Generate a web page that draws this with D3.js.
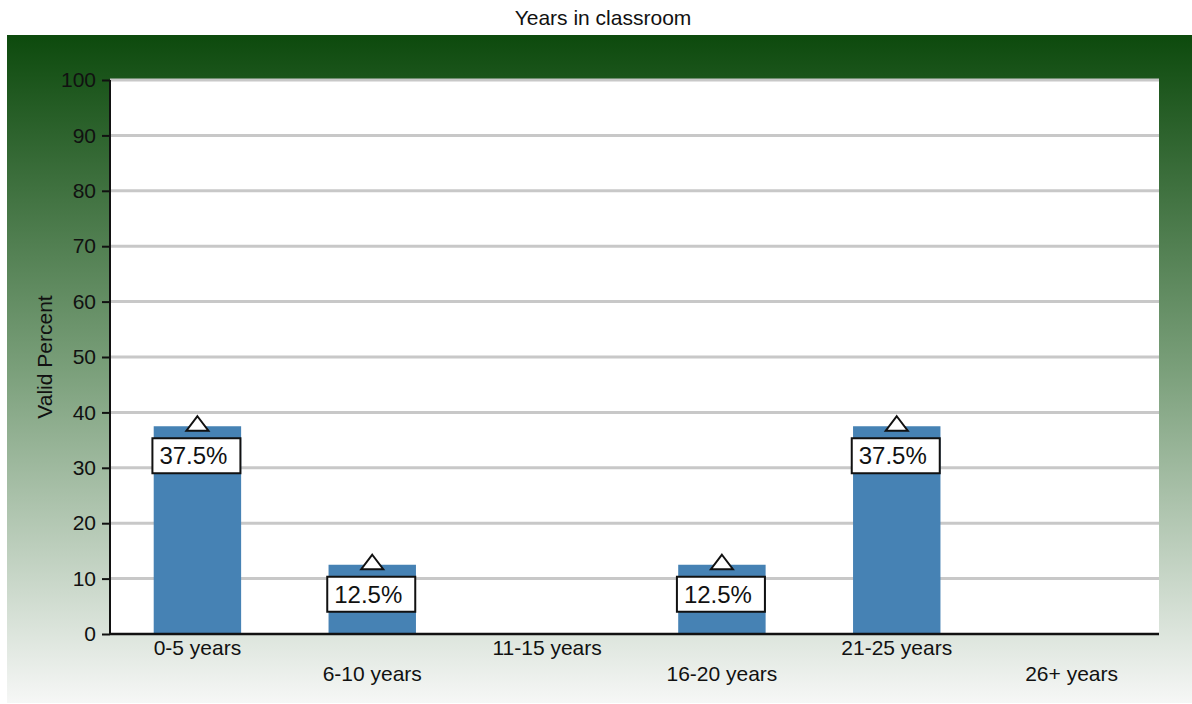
<!DOCTYPE html>
<html>
<head>
<meta charset="utf-8">
<script src="https://cdn.jsdelivr.net/npm/d3@7"></script>
<style>
  body { margin: 0; background: #fff; }
  text { font-family: "Liberation Sans", Arial, sans-serif; fill: #111; }
</style>
</head>
<body>
<div id="chart"></div>
<script>
var w = 1192;
var h = 704;

// data
var categories = ["0-5 years", "6-10 years", "11-15 years", "16-20 years", "21-25 years", "26+ years"];
var values = [37.5, 12.5, 0, 12.5, 37.5, 0];
var yTicks = [0, 10, 20, 30, 40, 50, 60, 70, 80, 90, 100];

var plot = { left: 110, right: 1159, top: 80, bottom: 634 };

var svg = d3.select("#chart")
    .append("svg")
    .attr("width", w)
    .attr("height", h);

// green gradient panel behind the plot
var defs = svg.append("defs");
var grad = defs.append("linearGradient")
    .attr("id", "panelGrad")
    .attr("x1", 0).attr("y1", 0)
    .attr("x2", 0).attr("y2", 1);
grad.append("stop").attr("offset", "0%").attr("stop-color", "#0d4a0d");
grad.append("stop").attr("offset", "50%").attr("stop-color", "#7a9f7a");
grad.append("stop").attr("offset", "100%").attr("stop-color", "#f6f7f6");

svg.append("rect")
    .attr("x", 7).attr("y", 35)
    .attr("width", w - 7).attr("height", 668)
    .attr("fill", "url(#panelGrad)");

svg.append("text")
    .attr("x", 603).attr("y", 25)
    .attr("text-anchor", "middle")
    .style("font-size", "21px")
    .text("Years in classroom");

// scales
var xScale = d3.scaleBand()
    .domain(categories)
    .range([plot.left, plot.right])
    .paddingInner(0.5)
    .paddingOuter(0.25);
var yScale = d3.scaleLinear()
    .domain([0, 100])
    .range([plot.bottom, plot.top]);

// white plot area
svg.append("rect")
    .attr("x", plot.left).attr("y", plot.top)
    .attr("width", plot.right - plot.left)
    .attr("height", plot.bottom - plot.top)
    .attr("fill", "#fff");

// gridlines
svg.append("g")
    .selectAll("line")
    .data(yTicks.filter(function(d) { return d > 0; }))
    .enter()
    .append("line")
    .attr("x1", plot.left).attr("x2", plot.right)
    .attr("y1", function(d) { return yScale(d); })
    .attr("y2", function(d) { return yScale(d); })
    .attr("stroke", "#c8c8c8")
    .attr("stroke-width", 3);

// y axis
var yAxis = d3.axisLeft(yScale)
    .tickValues(yTicks)
    .tickSize(8)
    .tickPadding(6);
var gy = svg.append("g")
    .attr("transform", "translate(" + plot.left + ",0)")
    .call(yAxis);
gy.select(".domain").remove();
gy.selectAll(".tick line").attr("stroke", "#111").attr("stroke-width", 2);
gy.selectAll(".tick text")
    .style("font-size", "21px")
    .style("font-family", "Liberation Sans, Arial, sans-serif")
    .attr("fill", "#111");
gy.append("line")
    .attr("x1", 0).attr("x2", 0)
    .attr("y1", plot.top).attr("y2", plot.bottom)
    .attr("stroke", "#111").attr("stroke-width", 2);

svg.append("text")
    .attr("transform", "translate(52," + ((plot.top + plot.bottom) / 2) + ") rotate(-90)")
    .attr("text-anchor", "middle")
    .style("font-size", "21px")
    .text("Valid Percent");

// bars
svg.append("g")
    .selectAll("rect")
    .data(values)
    .enter()
    .append("rect")
    .attr("x", function(d, i) { return xScale(categories[i]); })
    .attr("y", function(d) { return yScale(d); })
    .attr("width", xScale.bandwidth())
    .attr("height", function(d) { return plot.bottom - yScale(d); })
    .attr("fill", "#4682b4");

// x axis
var gx = svg.append("g")
    .attr("transform", "translate(0," + plot.bottom + ")");
gx.append("line")
    .attr("x1", plot.left).attr("x2", plot.right)
    .attr("y1", 0).attr("y2", 0)
    .attr("stroke", "#111").attr("stroke-width", 2.5);
gx.selectAll("text")
    .data(categories)
    .enter()
    .append("text")
    .attr("x", function(d) { return xScale(d) + xScale.bandwidth() / 2; })
    .attr("y", function(d, i) { return i % 2 === 0 ? 21 : 47; })
    .attr("text-anchor", "middle")
    .style("font-size", "21px")
    .text(function(d) { return d; });

// value markers and labels for non-empty bars
var labelled = values.map(function(v, i) { return { v: v, c: categories[i] }; })
    .filter(function(d) { return d.v > 0; });

var marks = svg.append("g")
    .selectAll("g")
    .data(labelled)
    .enter()
    .append("g")
    .attr("transform", function(d) {
        return "translate(" + (xScale(d.c) + xScale.bandwidth() / 2) + "," + yScale(d.v) + ")";
    });

marks.append("path")
    .attr("d", "M0,-10 L11,4.5 L-11,4.5 Z")
    .attr("fill", "#fff")
    .attr("stroke", "#111")
    .attr("stroke-width", 2);

marks.append("rect")
    .attr("x", -45).attr("y", 12)
    .attr("width", 88).attr("height", 35)
    .attr("fill", "#fff")
    .attr("stroke", "#111")
    .attr("stroke-width", 2);

marks.append("text")
    .attr("x", -4).attr("y", 38)
    .attr("text-anchor", "middle")
    .style("font-size", "24px")
    .text(function(d) { return d.v.toFixed(1) + "%"; });
</script>
</body>
</html>
